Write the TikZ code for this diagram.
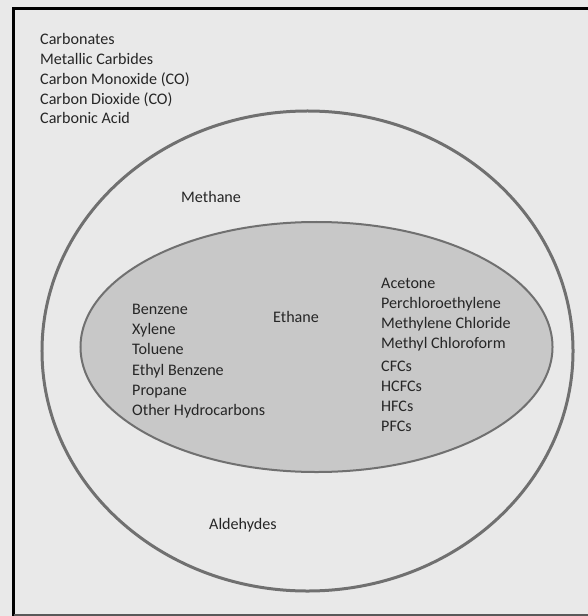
\documentclass[tikz,border=0pt]{standalone}
\usepackage{fontspec}
\setmainfont{Carlito}
\usetikzlibrary{shapes.geometric}
\definecolor{bgcol}{HTML}{E9E9E9}
\definecolor{innerfill}{HTML}{C8C8C8}
\definecolor{ringcol}{HTML}{707070}
\definecolor{txtcol}{HTML}{262626}
\tikzset{
  lbl/.style={anchor=base west, inner sep=0pt, text=txtcol, font=\fontsize{16.1bp}{19bp}\selectfont},
  ring/.style={ellipse, draw=ringcol, inner sep=0pt},
}
\begin{document}
\begin{tikzpicture}[x=1bp,y=-1bp]
  \useasboundingbox (0,0) rectangle (588,616);
  \fill[bgcol] (0,0) rectangle (588,616);
  % frame
  \draw[black, line width=3bp] (13.5,616) -- (13.5,9) -- (590,9);
  \draw[gray!70!black, line width=2bp] (13.5,614.5) -- (590,614.5);
  % rings
  \node[ring, line width=3bp, minimum width=531bp, minimum height=480bp] (outer) at (307.5,351) {};
  \node[ring, line width=2bp, fill=innerfill, minimum width=472bp, minimum height=250bp] (inner) at (316.5,347) {};
  % outside list
  \node[lbl] (t1) at (40,45) {Carbonates};
  \node[lbl] (t2) at (40,64.8) {Metallic Carbides};
  \node[lbl] (t3) at (40,84.5) {Carbon Monoxide (CO)};
  \node[lbl] (t4) at (40,104.3) {Carbon Dioxide (CO)};
  \node[lbl] (t5) at (40,124) {Carbonic Acid};
  % ring labels
  \node[lbl] (methane) at (181,202) {Methane};
  \node[lbl] (ethane) at (273,322) {Ethane};
  \node[lbl] (aldehydes) at (209,529) {Aldehydes};
  % inner left list
  \node[lbl] (l1) at (132,314.5) {Benzene};
  \node[lbl] (l2) at (132,334.7) {Xylene};
  \node[lbl] (l3) at (132,354.9) {Toluene};
  \node[lbl] (l4) at (132,375) {Ethyl Benzene};
  \node[lbl] (l5) at (132,395.2) {Propane};
  \node[lbl] (l6) at (132,415.5) {Other Hydrocarbons};
  % inner right list
  \node[lbl] (r1) at (381,288.5) {Acetone};
  \node[lbl] (r2) at (381,308.5) {Perchloroethylene};
  \node[lbl] (r3) at (381,328.5) {Methylene Chloride};
  \node[lbl] (r4) at (381,348.5) {Methyl Chloroform};
  \node[lbl] (r5) at (381,371) {CFCs};
  \node[lbl] (r6) at (381,391) {HCFCs};
  \node[lbl] (r7) at (381,411) {HFCs};
  \node[lbl] (r8) at (381,431) {PFCs};
\end{tikzpicture}
\end{document}
